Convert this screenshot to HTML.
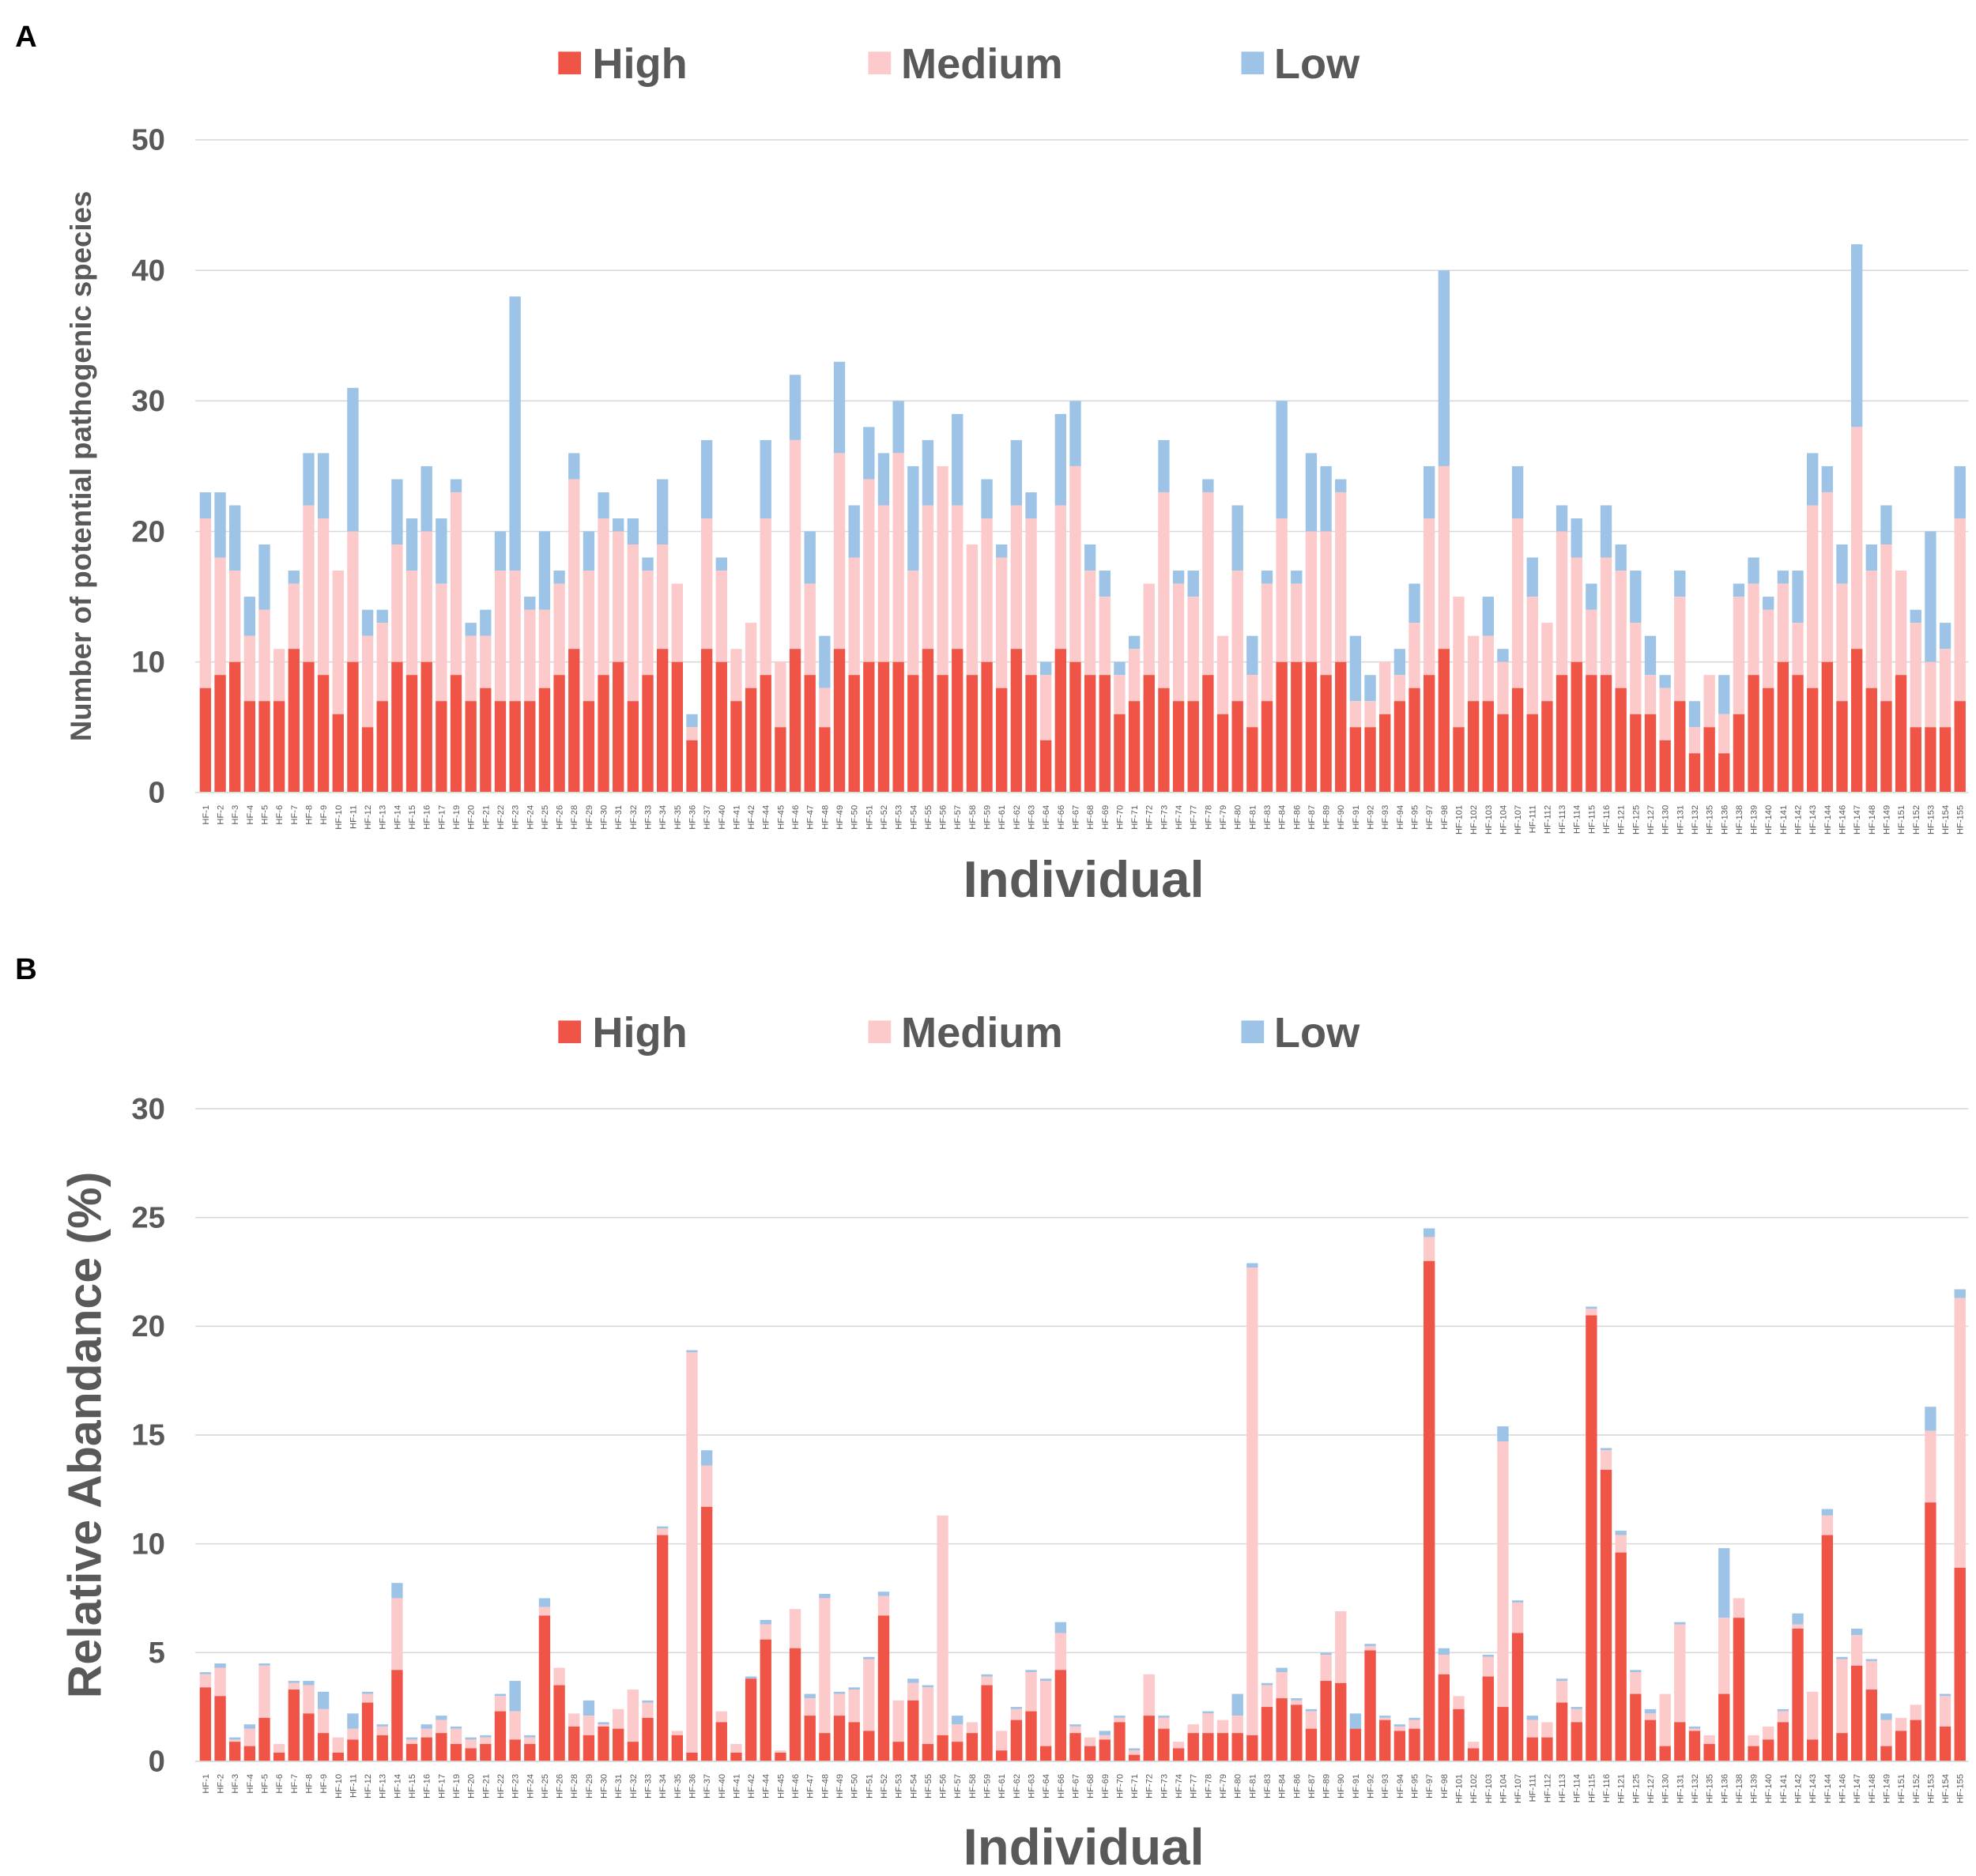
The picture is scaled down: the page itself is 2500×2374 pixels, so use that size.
<!DOCTYPE html>
<html><head><meta charset="utf-8">
<style>
html,body{margin:0;padding:0;background:#fff;}
svg{display:block;}
text{font-family:"Liberation Sans",Arial,sans-serif;}
</style></head>
<body>
<svg id="s" xmlns="http://www.w3.org/2000/svg" width="2500" height="2374" viewBox="0 0 1568 1489">
<rect width="1568" height="1489" fill="#fff"/>
<g id="g"></g>
</svg>
<script>
const labels=[1,2,3,4,5,6,7,8,9,10,11,12,13,14,15,16,17,19,20,21,22,23,24,25,26,28,29,30,31,32,33,34,35,36,37,40,41,42,44,45,46,47,48,49,50,51,52,53,54,55,56,57,58,59,61,62,63,64,66,67,68,69,70,71,72,73,74,77,78,79,80,81,83,84,86,87,89,90,91,92,93,94,95,97,98,101,102,103,104,107,111,112,113,114,115,116,121,125,127,130,131,132,135,136,138,139,140,141,142,143,144,146,147,148,149,151,152,153,154,155];
const A=[[8,21,23],[9,18,23],[10,17,22],[7,12,15],[7,14,19],[7,11,11],[11,16,17],[10,22,26],[9,21,26],[6,17,17],[10,20,31],[5,12,14],[7,13,14],[10,19,24],[9,17,21],[10,20,25],[7,16,21],[9,23,24],[7,12,13],[8,12,14],[7,17,20],[7,17,38],[7,14,15],[8,14,20],[9,16,17],[11,24,26],[7,17,20],[9,21,23],[10,20,21],[7,19,21],[9,17,18],[11,19,24],[10,16,16],[4,5,6],[11,21,27],[10,17,18],[7,11,11],[8,13,13],[9,21,27],[5,10,10],[11,27,32],[9,16,20],[5,8,12],[11,26,33],[9,18,22],[10,24,28],[10,22,26],[10,26,30],[9,17,25],[11,22,27],[9,25,25],[11,22,29],[9,19,19],[10,21,24],[8,18,19],[11,22,27],[9,21,23],[4,9,10],[11,22,29],[10,25,30],[9,17,19],[9,15,17],[6,9,10],[7,11,12],[9,16,16],[8,23,27],[7,16,17],[7,15,17],[9,23,24],[6,12,12],[7,17,22],[5,9,12],[7,16,17],[10,21,30],[10,16,17],[10,20,26],[9,20,25],[10,23,24],[5,7,12],[5,7,9],[6,10,10],[7,9,11],[8,13,16],[9,21,25],[11,25,40],[5,15,15],[7,12,12],[7,12,15],[6,10,11],[8,21,25],[6,15,18],[7,13,13],[9,20,22],[10,18,21],[9,14,16],[9,18,22],[8,17,19],[6,13,17],[6,9,12],[4,8,9],[7,15,17],[3,5,7],[5,9,9],[3,6,9],[6,15,16],[9,16,18],[8,14,15],[10,16,17],[9,13,17],[8,22,26],[10,23,25],[7,16,19],[11,28,42],[8,17,19],[7,19,22],[9,17,17],[5,13,14],[5,10,20],[5,11,13],[7,21,25]];
const B=[[3.4,4.0,4.1],[3.0,4.3,4.5],[0.9,1.0,1.1],[0.7,1.5,1.7],[2.0,4.4,4.5],[0.4,0.8,0.8],[3.3,3.6,3.7],[2.2,3.5,3.7],[1.3,2.4,3.2],[0.4,1.1,1.1],[1.0,1.5,2.2],[2.7,3.1,3.2],[1.2,1.6,1.7],[4.2,7.5,8.2],[0.8,1.0,1.1],[1.1,1.5,1.7],[1.3,1.9,2.1],[0.8,1.5,1.6],[0.6,1.0,1.1],[0.8,1.1,1.2],[2.3,3.0,3.1],[1.0,2.3,3.7],[0.8,1.1,1.2],[6.7,7.1,7.5],[3.5,4.3,4.3],[1.6,2.2,2.2],[1.2,2.1,2.8],[1.6,1.7,1.8],[1.5,2.4,2.4],[0.9,3.3,3.3],[2.0,2.7,2.8],[10.4,10.7,10.8],[1.2,1.4,1.4],[0.4,18.8,18.9],[11.7,13.6,14.3],[1.8,2.3,2.3],[0.4,0.8,0.8],[3.8,3.8,3.9],[5.6,6.3,6.5],[0.4,0.5,0.5],[5.2,7.0,7.0],[2.1,2.9,3.1],[1.3,7.5,7.7],[2.1,3.1,3.2],[1.8,3.3,3.4],[1.4,4.7,4.8],[6.7,7.6,7.8],[0.9,2.8,2.8],[2.8,3.6,3.8],[0.8,3.4,3.5],[1.2,11.3,11.3],[0.9,1.7,2.1],[1.3,1.8,1.8],[3.5,3.9,4.0],[0.5,1.4,1.4],[1.9,2.4,2.5],[2.3,4.1,4.2],[0.7,3.7,3.8],[4.2,5.9,6.4],[1.3,1.6,1.7],[0.7,1.1,1.1],[1.0,1.2,1.4],[1.8,2.0,2.1],[0.3,0.5,0.6],[2.1,4.0,4.0],[1.5,2.0,2.1],[0.6,0.9,0.9],[1.3,1.7,1.7],[1.3,2.2,2.3],[1.3,1.9,1.9],[1.3,2.1,3.1],[1.2,22.7,22.9],[2.5,3.5,3.6],[2.9,4.1,4.3],[2.6,2.8,2.9],[1.5,2.3,2.4],[3.7,4.9,5.0],[3.6,6.9,6.9],[1.5,1.5,2.2],[5.1,5.3,5.4],[1.9,2.0,2.1],[1.4,1.6,1.7],[1.5,1.9,2.0],[23.0,24.1,24.5],[4.0,4.9,5.2],[2.4,3.0,3.0],[0.6,0.9,0.9],[3.9,4.8,4.9],[2.5,14.7,15.4],[5.9,7.3,7.4],[1.1,1.9,2.1],[1.1,1.8,1.8],[2.7,3.7,3.8],[1.8,2.4,2.5],[20.5,20.8,20.9],[13.4,14.3,14.4],[9.6,10.4,10.6],[3.1,4.1,4.2],[1.9,2.2,2.4],[0.7,3.1,3.1],[1.8,6.3,6.4],[1.4,1.5,1.6],[0.8,1.2,1.2],[3.1,6.6,9.8],[6.6,7.5,7.5],[0.7,1.2,1.2],[1.0,1.6,1.6],[1.8,2.3,2.4],[6.1,6.3,6.8],[1.0,3.2,3.2],[10.4,11.3,11.6],[1.3,4.7,4.8],[4.4,5.8,6.1],[3.3,4.6,4.7],[0.7,1.9,2.2],[1.4,2.0,2.0],[1.9,2.6,2.6],[11.9,15.2,16.3],[1.6,3.0,3.1],[8.9,21.3,21.7]];
const C=["#ef5446","#fccaca","#9dc4e6"];
let o="";
function panel(data,y0,ymaxPx,max,step,legY,letter,letY,ytitle,ytSize,ytX,indivY){
  const k=(y0-ymaxPx)/max;
  for(let v=0;v<=max;v+=step){const y=y0-v*k;
    o+=`<line x1="155" x2="1562" y1="${y}" y2="${y}" stroke="#d9d9d9" stroke-width="1"/>`;
    o+=`<text x="131" y="${y+8}" text-anchor="end" font-size="24" font-weight="bold" fill="#595959">${v}</text>`;}
  data.forEach((d,i)=>{const x=158.5+i*11.7,w=9;
    const h=d[0],m=d[1],t=d[2];
    if(t>m)o+=`<rect x="${x}" y="${y0-t*k}" width="${w}" height="${(t-m)*k}" fill="${C[2]}"/>`;
    if(m>h)o+=`<rect x="${x}" y="${y0-m*k}" width="${w}" height="${(m-h)*k}" fill="${C[1]}"/>`;
    o+=`<rect x="${x}" y="${y0-h*k}" width="${w}" height="${h*k}" fill="${C[0]}"/>`;
    o+=`<text transform="translate(${x+7},${y0+10}) rotate(-90)" text-anchor="end" font-size="7" fill="#595959">HF-${labels[i]}</text>`;
  });
  o+=`<line x1="155" x2="1562" y1="${y0}" y2="${y0}" stroke="#d9d9d9" stroke-width="1"/>`;
  const lg=[["High",443,470],["Medium",689,715],["Low",985,1011]];
  lg.forEach((l,j)=>{o+=`<rect x="${l[1]}" y="${legY-9}" width="18" height="18" fill="${C[j]}"/>`;
    o+=`<text x="${l[2]}" y="${legY+12}" font-size="34" font-weight="bold" fill="#595959">${l[0]}</text>`;});
  o+=`<text x="12" y="${letY}" font-size="24" font-weight="bold" fill="#000">${letter}</text>`;
  o+=`<text transform="translate(${ytX},${(y0+ymaxPx)/2}) rotate(-90)" text-anchor="middle" font-size="${ytSize}" font-weight="bold" fill="#595959">${ytitle}</text>`;
  o+=`<text x="860" y="${indivY}" text-anchor="middle" font-size="41" font-weight="bold" fill="#595959">Individual</text>`;
}
panel(A,629,111,50,10,50,"A",37,"Number of potential pathogenic species",23,72,712);
panel(B,1398,880,30,5,819,"B",777,"Relative Abandance (%)",37,80,1480);
document.getElementById("g").innerHTML=o;
</script>
</body></html>
